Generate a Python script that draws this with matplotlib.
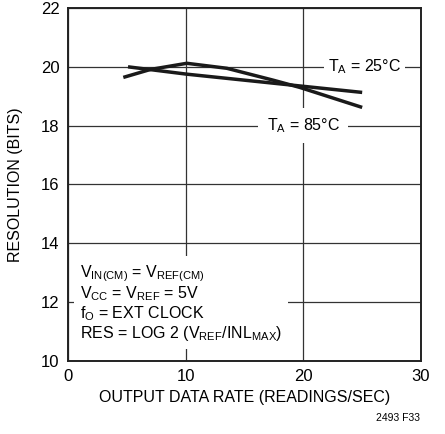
import matplotlib
matplotlib.use("Agg")
import matplotlib.pyplot as plt
from matplotlib import font_manager

fams = set(f.name for f in font_manager.fontManager.ttflist)
fam = "Liberation Sans"
for cand in ["Liberation Sans Narrow", "DejaVu Sans Condensed"]:
    if cand in fams:
        fam = cand
        break
plt.rcParams["font.family"] = [fam, "DejaVu Sans"]
plt.rcParams["mathtext.fontset"] = "custom"
plt.rcParams["mathtext.rm"] = fam
plt.rcParams["mathtext.it"] = fam

# curves
rate_a = [4.7, 7.0, 10.1, 13.5, 17.4, 19.7, 25.0]
res_a = [19.64, 19.91, 20.12, 19.95, 19.55, 19.30, 18.62]
rate_b = [5.1, 10.1, 19.7, 25.0]
res_b = [20.0, 19.75, 19.35, 19.13]

xticks = [0, 10, 20, 30]
yticks = [10, 12, 14, 16, 18, 20, 22]

fs = 13.5 if fam == "Liberation Sans Narrow" else 11.5

fig = plt.figure(figsize=(4.45, 4.34), dpi=100)
ax = fig.add_axes([0.1528, 0.1682, 0.7933, 0.8134])

ax.plot(rate_a, res_a, color="#1a1a1a", lw=2.5, solid_capstyle="butt", zorder=4)
ax.plot(rate_b, res_b, color="#1a1a1a", lw=2.5, solid_capstyle="butt", zorder=4)

ax.set_xlim(0, 30)
ax.set_ylim(10, 22)
ax.set_xticks(xticks)
ax.set_yticks(yticks)
ax.grid(True, color="#333333", lw=0.9)
ax.tick_params(length=0, labelsize=fs + 0.5, pad=6)
for s in ax.spines.values():
    s.set_linewidth(1.4)
    s.set_color("#222222")

ax.set_xlabel("OUTPUT DATA RATE (READINGS/SEC)", fontsize=fs, labelpad=4)
ax.set_ylabel("RESOLUTION (BITS)", fontsize=fs, labelpad=13)

ax.text(25.2, 20.0, r"T$_\mathregular{A}$ = 25°C", ha="center", va="center",
        fontsize=fs, bbox=dict(facecolor="white", edgecolor="none", pad=3), zorder=3)
ax.text(20.0, 18.0, r"T$_\mathregular{A}$ = 85°C", ha="center", va="center",
        fontsize=fs, bbox=dict(facecolor="white", edgecolor="none", pad=6), zorder=3)

notes = ("V$_\\mathregular{IN(CM)}$ = V$_\\mathregular{REF(CM)}$\n"
         "V$_\\mathregular{CC}$ = V$_\\mathregular{REF}$ = 5V\n"
         "f$_\\mathregular{O}$ = EXT CLOCK\n"
         "RES = LOG 2 (V$_\\mathregular{REF}$/INL$_\\mathregular{MAX}$)")
ax.text(1.0, 10.6, notes, ha="left", va="bottom", fontsize=fs,
        linespacing=1.08, bbox=dict(facecolor="white", edgecolor="none", pad=4), zorder=3)

fig.text(0.944, 0.025, "2493 F33", ha="right", va="bottom", fontsize=7.5)

fig.savefig("out.png", dpi=100)
